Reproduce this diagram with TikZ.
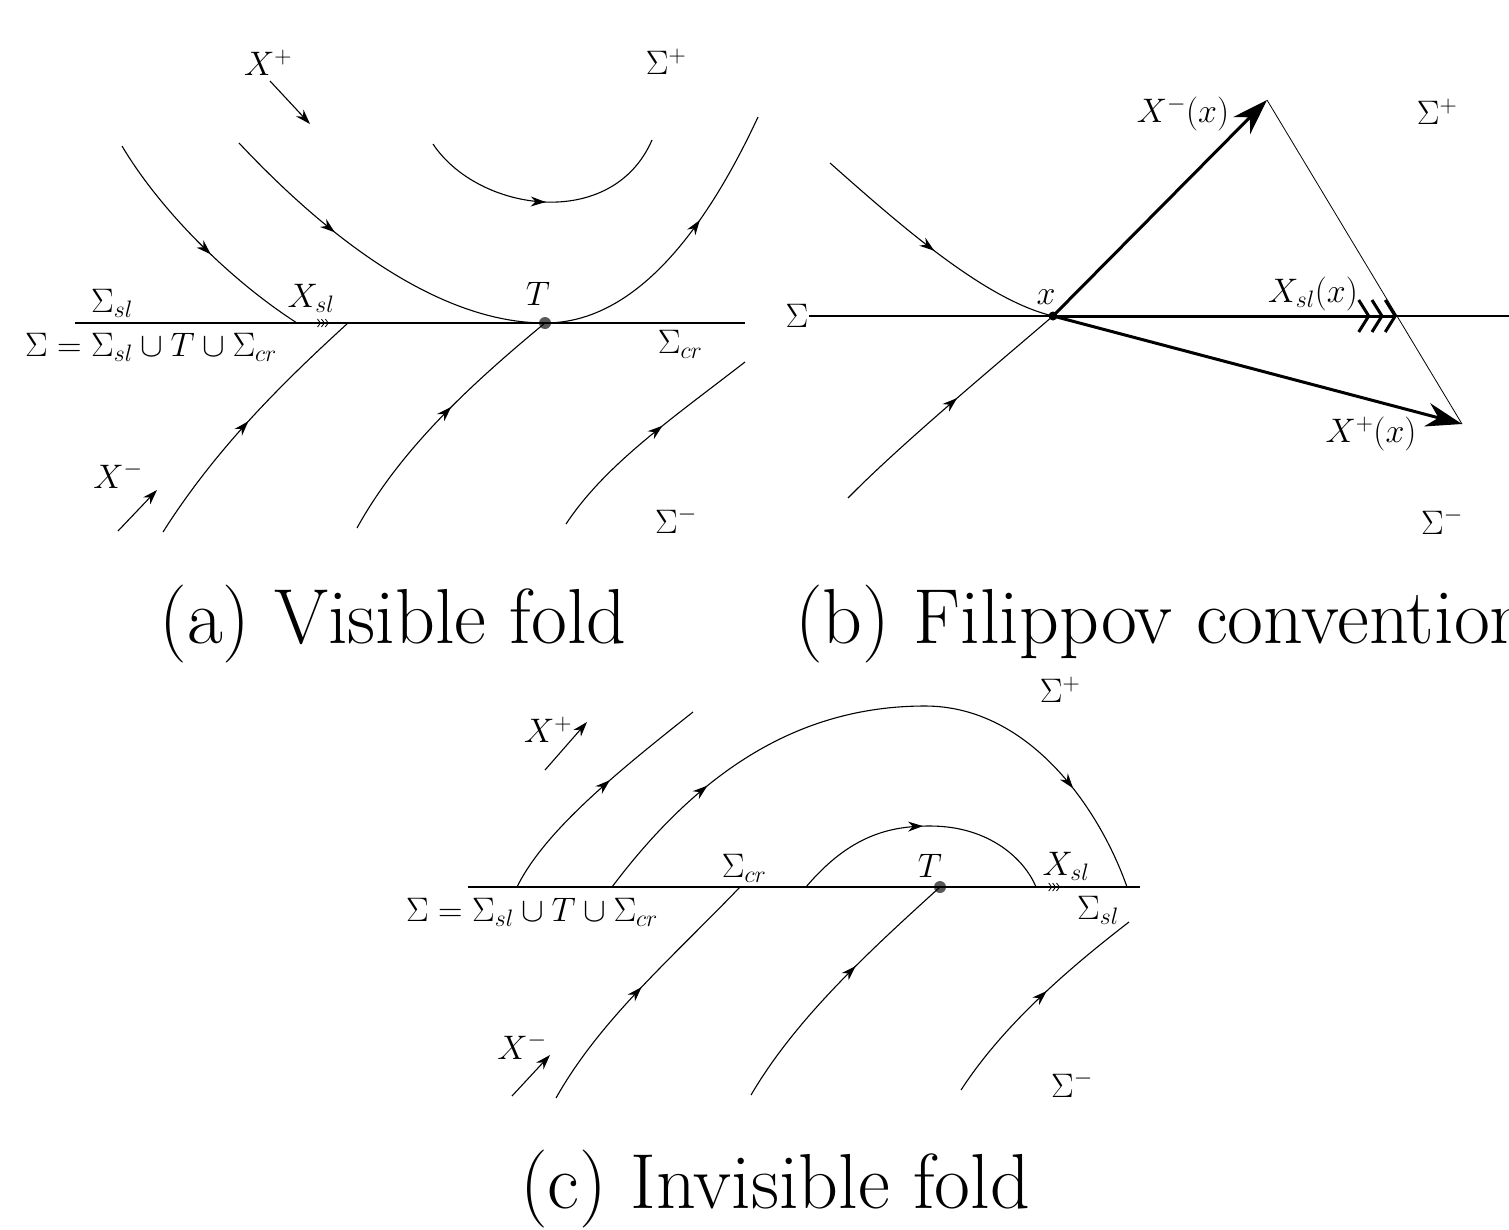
\RequirePackage{fix-cm}
\documentclass[tikz,border=0pt]{standalone}
\usetikzlibrary{arrows.meta,decorations.markings}
\tikzset{
  traj/.style={line width=1.1pt},
  midarrow/.style={postaction={decorate,decoration={markings,mark=at position #1 with {\arrow{Stealth[length=15pt,width=10pt]}}}}},
  slarrow/.style={postaction={decorate,decoration={markings,mark=at position #1 with {\arrow{Straight Barb[length=3pt,width=8pt,line width=0.8pt]Straight Barb[length=3pt,width=8pt,line width=0.8pt]Straight Barb[length=3pt,width=8pt,line width=0.8pt]}}}}},
  lbl/.style={font=\fontsize{34}{41}\selectfont, inner sep=0pt},
  capt/.style={font=\fontsize{78}{94}\selectfont, inner sep=0pt},
  thickS/.style={line width=2.2pt},
  thinS/.style={line width=1.1pt},
  fieldarrow/.style={line width=1.1pt,-{Stealth[length=15pt,width=10pt]}},
  vec/.style={line width=3pt,-{Stealth[length=36pt,width=24pt]}},
  slvec/.style={line width=3pt,-{Straight Barb[length=10pt,width=32pt]Straight Barb[length=10pt,width=32pt]Straight Barb[length=10pt,width=32pt]}},
  tdot/.style={circle,fill=black!65,inner sep=0pt,minimum size=12pt},
  xdot/.style={circle,fill=black,inner sep=0pt,minimum size=9pt},
}
\begin{document}
\begin{tikzpicture}[x=1pt,y=-1pt]
\useasboundingbox (0,0) rectangle (1509,1229);

% ---------------- (a) Visible fold ----------------
\coordinate (aL) at (75,323);
\coordinate (aR) at (745,323);
\node[tdot] (aT) at (545,323) {};
\draw[thickS,slarrow=0.54] (aL) -- (aT.center);
\draw[thinS] (aT.center) -- (aR);

\coordinate (a1s) at (122,146); \coordinate (a1e) at (297,323);
\draw[traj,midarrow=0.56] (a1s) .. controls (160,210) and (230,280) .. (a1e);
\coordinate (a2s) at (239,143); \coordinate (a2e) at (758,117);
\draw[traj,midarrow=0.36] (a2s) .. controls (330,240) and (440,323) .. (aT.center);
\draw[traj,midarrow=0.62] (aT.center) .. controls (640,323) and (710,220) .. (a2e);
\coordinate (a3s) at (433,144); \coordinate (a3e) at (652,140);
\draw[traj,midarrow=0.5] (a3s) .. controls (478,212) and (612,232) .. (a3e);

\coordinate (b1s) at (163,532); \coordinate (b1e) at (348,323);
\draw[traj,midarrow=0.5] (b1s) .. controls (215,450) and (280,385) .. (b1e);
\coordinate (b2s) at (357,528);
\draw[traj,midarrow=0.55] (b2s) .. controls (400,450) and (470,385) .. (aT.center);
\coordinate (b3s) at (566,524); \coordinate (b3e) at (745,362);
\draw[traj,midarrow=0.57] (b3s) .. controls (605,465) and (670,420) .. (b3e);

\node[lbl] (aXp) at (268,63) {$X^+$};
\coordinate (aXpt) at (270,81); \coordinate (aXph) at (310,124);
\draw[fieldarrow] (aXpt) -- (aXph);
\node[lbl] (aSp) at (666,62) {$\Sigma^+$};
\node[lbl] (aSsl) at (112,303) {$\Sigma_{sl}$};
\node[lbl] (aXsl) at (311,298) {$X_{sl}$};
\node[lbl] (aTl) at (538,294) {$T$};
\node[lbl] (aSeq) at (151,347) {$\Sigma=\Sigma_{sl}\cup T\cup\Sigma_{cr}$};
\node[lbl] (aScr) at (680,344) {$\Sigma_{cr}$};
\node[lbl] (aXm) at (118,475) {$X^-$};
\coordinate (aXmt) at (118,531); \coordinate (aXmh) at (157,490);
\draw[fieldarrow] (aXmt) -- (aXmh);
\node[lbl] (aSm) at (676,520) {$\Sigma^-$};
\node[capt] (acap) at (393,624) {(a) Visible fold};

% ---------------- (b) Filippov convention ----------------
\node[lbl] (bS) at (797,316) {$\Sigma$};
\coordinate (bR) at (1509,316);
\draw[thinS] (bS.east) -- (bR);
\coordinate (bx) at (1053,316);
\coordinate (bc1) at (830,163);
\draw[traj,midarrow=0.5] (bc1) .. controls (900,225) and (985,300) .. (bx);
\coordinate (bc2) at (848,498);
\draw[traj,midarrow=0.54] (bc2) .. controls (900,445) and (990,370) .. (bx);
\coordinate (bXm) at (1267,100);
\coordinate (bXsl) at (1397,316);
\coordinate (bXp) at (1462,424);
\draw[line width=0.8pt] (bXm) -- (bXp);
\draw[vec] (bx) -- (bXm);
\draw[vec] (bx) -- (bXp);
\draw[slvec] (bx) -- (bXsl);
\node[xdot] (bxd) at (bx) {};
\node[lbl] (bxl) at (1046,297) {$x$};
\node[lbl] (bXml) at (1183,114) {$X^-(x)$};
\node[lbl] (bSp) at (1437,112) {$\Sigma^+$};
\node[lbl] (bXsll) at (1313,294) {$X_{sl}(x)$};
\node[lbl] (bXpl) at (1371,434) {$X^+(x)$};
\node[lbl] (bSm) at (1442,521) {$\Sigma^-$};
\node[capt,anchor=west] (bcap) at (795,624) {(b) Filippov convention};

% ---------------- (c) Invisible fold ----------------
\coordinate (cL) at (468,887);
\coordinate (cR) at (1140,887);
\node[tdot] (cT) at (940,887) {};
\draw[thinS] (cL) -- (cT.center);
\draw[thickS,slarrow=0.6] (cT.center) -- (cR);

\coordinate (c1s) at (517,887); \coordinate (c1e) at (693,712);
\draw[traj,midarrow=0.57] (c1s) .. controls (545,830) and (620,770) .. (c1e);
\coordinate (c2s) at (612,887); \coordinate (c2t) at (925,706); \coordinate (c2e) at (1127,887);
\draw[traj,midarrow=0.21,midarrow=0.83] (c2s) .. controls (700,770) and (800,706) .. (c2t)
      .. controls (1030,706) and (1100,810) .. (c2e);
\coordinate (c3s) at (806,887); \coordinate (c3t) at (930,826); \coordinate (c3e) at (1036,887);
\draw[traj,midarrow=0.5] (c3s) .. controls (850,835) and (890,826) .. (c3t)
      .. controls (990,826) and (1025,860) .. (c3e);

\coordinate (d1s) at (556,1098); \coordinate (d1e) at (740,887);
\draw[traj,midarrow=0.5] (d1s) .. controls (600,1020) and (670,960) .. (d1e);
\coordinate (d2s) at (751,1095);
\draw[traj,midarrow=0.59] (d2s) .. controls (795,1020) and (865,955) .. (cT.center);
\coordinate (d3s) at (961,1090); \coordinate (d3e) at (1129,922);
\draw[traj,midarrow=0.55] (d3s) .. controls (1000,1030) and (1060,975) .. (d3e);

\node[lbl] (cSp) at (1060,690) {$\Sigma^+$};
\node[lbl] (cXp) at (548,730) {$X^+$};
\coordinate (cXpt) at (545,770); \coordinate (cXph) at (587,722);
\draw[fieldarrow] (cXpt) -- (cXph);
\node[lbl] (cScr) at (744,868) {$\Sigma_{cr}$};
\node[lbl] (cTl) at (930,866) {$T$};
\node[lbl] (cXsl) at (1066,866) {$X_{sl}$};
\node[lbl] (cSeq) at (532,912) {$\Sigma=\Sigma_{sl}\cup T\cup\Sigma_{cr}$};
\node[lbl] (cSsl) at (1098,910) {$\Sigma_{sl}$};
\node[lbl] (cXm) at (522,1046) {$X^-$};
\coordinate (cXmt) at (512,1096); \coordinate (cXmh) at (550,1055);
\draw[fieldarrow] (cXmt) -- (cXmh);
\node[lbl] (cSm) at (1072,1084) {$\Sigma^-$};
\node[capt] (ccap) at (775,1189) {(c) Invisible fold};
\end{tikzpicture}
\end{document}
